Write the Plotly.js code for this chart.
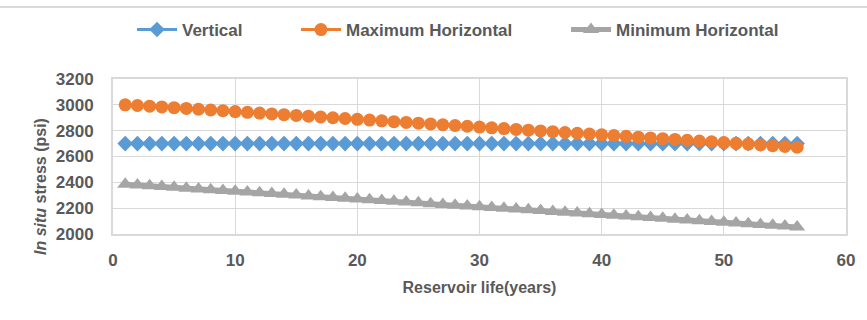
<!DOCTYPE html>
<html>
<head>
<meta charset="utf-8">
<script src="https://cdn.plot.ly/plotly-3.0.1.min.js"></script>
<style>html,body{margin:0;padding:0;background:#fff;}#chart{width:867px;height:320px;}</style>
</head>
<body>
<div id="chart"></div>
<script>
const years = [1,2,3,4,5,6,7,8,9,10,11,12,13,14,15,16,17,18,19,20,21,22,23,24,25,26,27,28,29,30,31,32,33,34,35,36,37,38,39,40,41,42,43,44,45,46,47,48,49,50,51,52,53,54,55,56];
const vertical = [2700,2700,2700,2700,2700,2700,2700,2700,2700,2700,2700,2700,2700,2700,2700,2700,2700,2700,2700,2700,2700,2700,2700,2700,2700,2700,2700,2700,2700,2700,2700,2700,2700,2700,2700,2700,2700,2700,2700,2700,2700,2700,2700,2700,2700,2700,2700,2700,2700,2700,2700,2700,2700,2700,2700,2700];
const maxHorizontal = [3000,2995,2990,2984,2978,2972,2966,2960,2954,2948,2942,2936,2930,2924,2918,2912,2906,2900,2894,2888,2882,2876,2870,2864,2858,2852,2846,2840,2834,2828,2822,2816,2810,2804,2798,2792,2786,2780,2774,2768,2762,2756,2750,2744,2738,2732,2726,2720,2714,2708,2702,2696,2690,2684,2678,2672];
const minHorizontal = [2385,2379,2373,2367,2361,2355,2349,2343,2337,2331,2325,2319,2313,2307,2301,2295,2289,2283,2277,2271,2265,2259,2253,2247,2241,2235,2229,2223,2217,2211,2205,2199,2193,2187,2181,2175,2169,2163,2157,2151,2145,2139,2133,2127,2121,2115,2109,2103,2097,2091,2085,2079,2073,2067,2061,2055];
const seriesNames = ['Vertical','Maximum Horizontal','Minimum Horizontal'];
const xTicks = [0,10,20,30,40,50,60];
const yTicks = [2000,2200,2400,2600,2800,3000,3200];
const xTitle = 'Reservoir life(years)';
const yTitle = '<i>In situ</i> stress (psi)';

const FONT = 'Liberation Sans, Arial, sans-serif';
const TXT = '#595959';
const GRID = '#D9D9D9';

const traces = [
  {x: years, y: vertical, name: seriesNames[0], type: 'scatter', mode: 'lines+markers',
   line: {color: '#5B9BD5', width: 3}, marker: {symbol: 'diamond', size: 12, color: '#5B9BD5'}, legend: 'legend'},
  {x: years, y: maxHorizontal, name: seriesNames[1], type: 'scatter', mode: 'lines+markers',
   line: {color: '#ED7D31', width: 3}, marker: {symbol: 'circle', size: 13, color: '#ED7D31'}, legend: 'legend2'},
  {x: years, y: minHorizontal, name: seriesNames[2], type: 'scatter', mode: 'lines+markers',
   line: {color: '#A5A5A5', width: 5}, marker: {symbol: 'triangle-up', size: 14, color: '#A5A5A5'}, legend: 'legend3'}
];

const legBase = {orientation: 'h', yanchor: 'middle', xanchor: 'left', y: 1.316,
  font: {family: FONT, size: 17, color: TXT, weight: 'bold'}, bgcolor: 'rgba(0,0,0,0)', itemwidth: 40};

const layout = {
  width: 867, height: 320,
  margin: {l: 113, r: 21, t: 79, b: 86},
  paper_bgcolor: '#fff', plot_bgcolor: '#fff',
  font: {family: FONT, color: TXT, size: 17},
  showlegend: true,
  legend: Object.assign({}, legBase, {x: (132 - 113) / 733}),
  legend2: Object.assign({}, legBase, {x: (296 - 113) / 733}),
  legend3: Object.assign({}, legBase, {x: (566 - 113) / 733}),
  xaxis: {
    range: [0, 60], tickvals: xTicks, ticktext: xTicks.map(String),
    showgrid: true, gridcolor: GRID, gridwidth: 1,
    showline: true, linecolor: GRID, linewidth: 2, mirror: true, zeroline: false,
    ticks: '', ticklabelstandoff: 10,
    tickfont: {family: FONT, size: 17, color: TXT, weight: 'bold'},
    title: {text: xTitle, font: {family: FONT, size: 16, color: TXT, weight: 'bold'}, standoff: 12}
  },
  yaxis: {
    range: [2000, 3200], tickvals: yTicks, ticktext: yTicks.map(String),
    showgrid: true, gridcolor: GRID, gridwidth: 1,
    showline: true, linecolor: GRID, linewidth: 2, mirror: true, zeroline: false,
    ticks: '', ticklabelstandoff: 14,
    tickfont: {family: FONT, size: 17, color: TXT, weight: 'bold'}
  },
  annotations: [{text: '<b>' + yTitle + '</b>', xref: 'paper', yref: 'paper',
    x: (40 - 113) / 733, y: (234 - 187) / 155, xanchor: 'center', yanchor: 'middle',
    textangle: -90, showarrow: false, font: {family: FONT, size: 16, color: TXT}}],
  shapes: [{type: 'line', xref: 'paper', yref: 'paper', x0: -0.2, x1: 1.1, y0: (234 - 7) / 155, y1: (234 - 7) / 155,
            line: {color: '#D9D9D9', width: 2}}]
};

Plotly.newPlot('chart', traces, layout, {displayModeBar: false, staticPlot: true});
</script>
</body>
</html>
